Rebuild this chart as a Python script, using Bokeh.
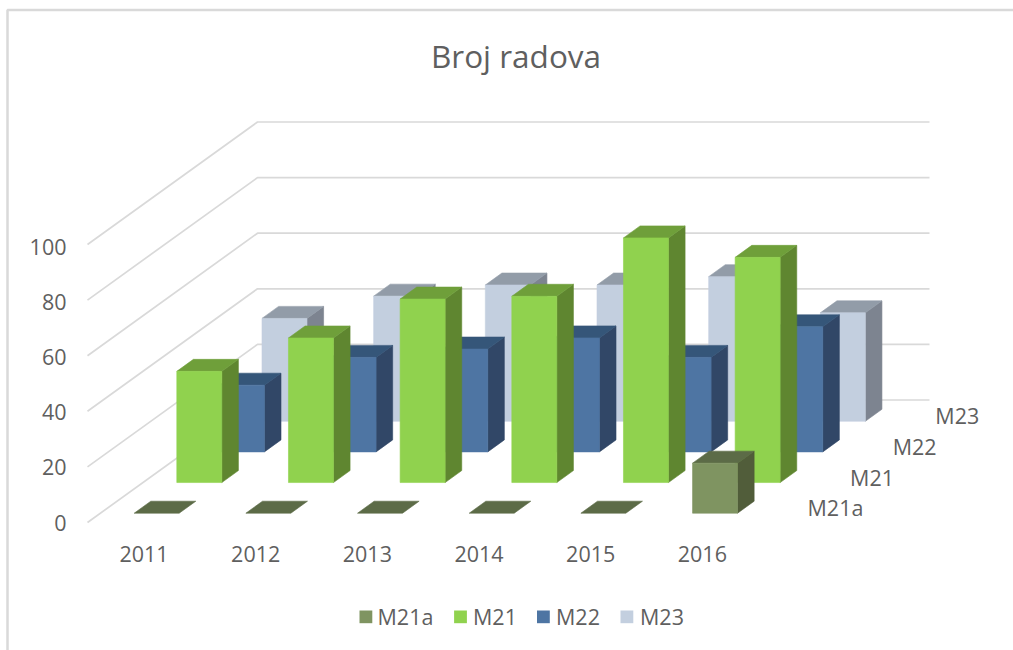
from bokeh.plotting import figure
from bokeh.models import Range1d, ColumnDataSource
from bokeh.core.properties import value
from bokeh.embed import file_html
from bokeh.resources import INLINE

years = ["2011", "2012", "2013", "2014", "2015", "2016"]
series_names = ["M21a", "M21", "M22", "M23"]
m21a = [0, 0, 0, 0, 0, 18]
m21 = [40, 52, 66, 67, 88, 81]
m22 = [24, 34, 37, 41, 34, 45]
m23 = [37, 45, 49, 49, 52, 39]
value_ticks = [0, 20, 40, 60, 80, 100]

series_values = [m21a, m21, m22, m23]
face_colors = {
    "M21a": ("#7F9461", "#5C6B47", "#515D3A"),
    "M21": ("#90D24E", "#6F9F3A", "#5F8630"),
    "M22": ("#4E75A3", "#355679", "#314767"),
    "M23": ("#C3CFDF", "#929CA8", "#7D8490"),
}

# pixel scale of the oblique projection
SX, SY = 111.67, 2.78          # px per category, px per value unit
ROW_DX, ROW_DY = 42.6, 30.65   # px per depth row
BAR_W = 45.0
BAR_DX, BAR_DY = 16.6, 12.0    # bar depth
OX, OY = 133.7, 512.7          # page pixel of category 0, front row, value 0

# the frame covers page pixels PX0..PX1, PY0..PY1
PX0, PX1, PY0, PY1 = 0, 1013, 0, 650
p = figure(width=PX1 - PX0, height=PY1 - PY0, output_backend="svg", toolbar_location=None,
           x_range=Range1d((PX0 - OX) / SX, (PX1 - OX) / SX),
           y_range=Range1d((OY - PY1) / SY, (OY - PY0) / SY),
           min_border=0, outline_line_color=None)
p.axis.visible = False
p.grid.visible = False
p.background_fill_color = "white"
p.border_fill_color = "white"


def dx(px):
    return px / SX


def dy(px):
    return px / SY


FONT = value("Open Sans")
TXT = "#5f5f5f"

# outer frame of the chart
BORDER = "#d9d9d9"
fx0, fx1 = (7 - OX) / SX, (1013 - OX) / SX
fy_top = (OY - 9.5) / SY
fy_bot = (OY - PY1) / SY
p.line([fx0, fx0, fx1], [fy_bot, fy_top, fy_top], line_color=BORDER, line_width=2.5)

# gridlines: front-left -> back-left -> back-right
gx0 = (87 - OX) / SX
gx1 = (257 - OX) / SX
gx2 = (929 - OX) / SX
gy_front = (OY - 522) / SY
gy_back = (OY - 399.5) / SY
for v in value_ticks:
    p.line([gx0, gx1, gx2], [gy_front + v, gy_back + v, gy_back + v],
           line_color="#d9d9d9", line_width=1.7)

# bars: back row first
for r in range(len(series_names) - 1, -1, -1):
    name = series_names[r]
    vals = series_values[r]
    front, top, side = face_colors[name]
    xs, ys, cols = [], [], []
    for c, v in enumerate(vals):
        x0 = c + dx(r * ROW_DX)
        x1 = x0 + dx(BAR_W)
        y0 = dy(r * ROW_DY)
        y1 = y0 + v
        ox, oy = dx(BAR_DX), dy(BAR_DY)
        if v > 0:
            xs.append([x1, x1 + ox, x1 + ox, x1])
            ys.append([y0, y0 + oy, y1 + oy, y1])
            cols.append(side)
        xs.append([x0, x0 + ox, x1 + ox, x1])
        ys.append([y1, y1 + oy, y1 + oy, y1])
        cols.append(top)
        if v > 0:
            xs.append([x0, x1, x1, x0])
            ys.append([y0, y0, y1, y1])
            cols.append(front)
    src = ColumnDataSource(dict(xs=xs, ys=ys, c=cols))
    p.patches("xs", "ys", source=src, fill_color="c", line_color="c", line_width=0.6)

# title
p.text([(515.5 - OX) / SX], [(OY - 55) / SY], text=["Broj radova"], text_font=FONT,
       text_font_size="31.5px", text_color=TXT, text_align="center", text_baseline="middle")

# value axis labels
p.text([(66 - OX) / SX] * len(value_ticks), [gy_front + v * 0.99 for v in value_ticks],
       text=[str(v) for v in value_ticks], text_font=FONT, text_font_size="21.5px",
       text_color=TXT, text_align="right", text_baseline="middle", y_offset=0)

# category labels
p.text([c + (143.5 - OX) / SX for c in range(len(years))], [(OY - 553) / SY] * len(years),
       text=years, text_font=FONT, text_font_size="21.5px", text_color=TXT,
       text_align="center", text_baseline="middle")

# depth labels
p.text([(807 + r * ROW_DX - OX) / SX for r in range(4)],
       [(OY - 507.3) / SY + dy(r * ROW_DY) for r in range(4)],
       text=series_names, text_font=FONT, text_font_size="21.5px", text_color=TXT,
       text_align="left", text_baseline="middle")

# legend
swatch_px = [359, 453.6, 536.5, 620]
label_px = [377, 472.5, 555.5, 639.5]
s = 12.8
for i, name in enumerate(series_names):
    lx = swatch_px[i]
    x0, x1 = (lx - OX) / SX, (lx + s - OX) / SX
    y0, y1 = (OY - 622.7) / SY, (OY - 610) / SY
    p.quad(left=[x0], right=[x1], bottom=[y0], top=[y1], fill_color=face_colors[name][0],
           line_color=None)
    p.text([(label_px[i] - OX) / SX], [(OY - 616) / SY], text=[name], text_font=FONT,
           text_font_size="21.5px", text_color=TXT, text_align="left", text_baseline="middle")

open("out.html", "w").write(file_html(p, INLINE))
